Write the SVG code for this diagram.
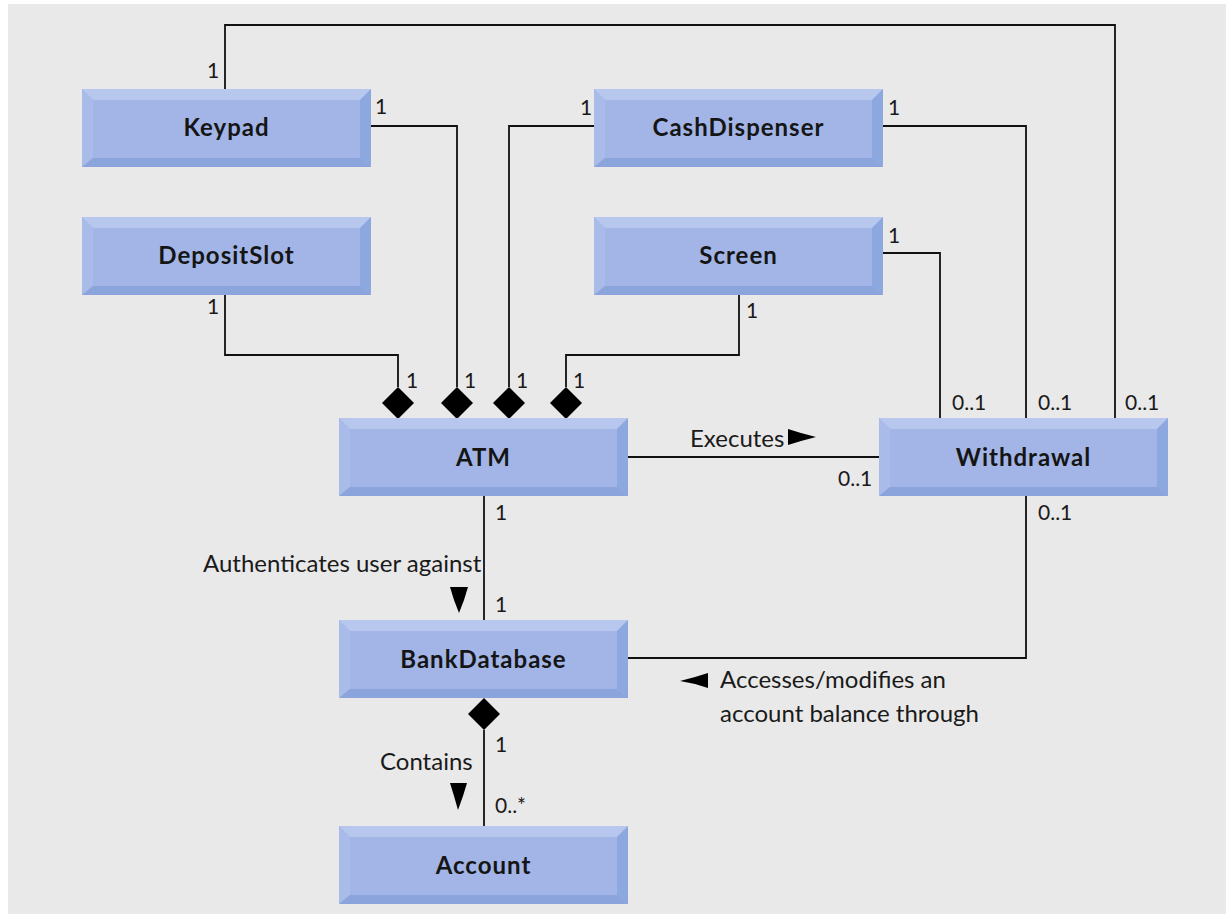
<svg xmlns="http://www.w3.org/2000/svg" xmlns:xlink="http://www.w3.org/1999/xlink" width="1226" height="914" viewBox="0 0 1226 914">
<style>
.bg{fill:#e9e9e9}
.face{fill:#a2b5e6}
.top{fill:#b7c7ee}
.left{fill:#a9bbe9}
.right{fill:#8da7df}
.bottom{fill:#8ba4dc}
.name{font-family:Lato,"Liberation Sans",sans-serif;font-weight:bold;font-size:24px;letter-spacing:1px;fill:#151515;text-anchor:middle}
.lbl{font-family:Lato,"Liberation Sans",sans-serif;font-size:24px;fill:#1a1a1a}
.mult{font-family:Lato,"Liberation Sans",sans-serif;font-size:21px;fill:#1a1a1a}
.conn{fill:none;stroke:#111;stroke-width:1.8}
.dia{fill:#000}
</style>
<defs>
<g id="box">
<rect x="0" y="0" width="289" height="78" class="face"/>
<polygon points="0,0 289,0 278,11 11,11" class="top"/>
<polygon points="0,0 11,11 11,69 0,78" class="left"/>
<polygon points="289,0 289,78 278,69 278,11" class="right"/>
<polygon points="0,78 289,78 278,69 11,69" class="bottom"/>
</g>
<polygon id="diamond" points="0,-16 16,0 0,16 -16,0" class="dia"/>
</defs>
<rect x="0" y="0" width="1226" height="914" fill="#ffffff"/>
<rect x="8" y="4" width="1218" height="910" class="bg"/>

<g id="connectors">
<polyline class="conn" points="225,89 225,25 1115,25 1115,418"/>
<polyline class="conn" points="371,126 457,126 457,387"/>
<polyline class="conn" points="594,126 509,126 509,387"/>
<polyline class="conn" points="225,295 225,355 398,355 398,387"/>
<polyline class="conn" points="739,295 739,355 566,355 566,387"/>
<polyline class="conn" points="883,126 1026,126 1026,418"/>
<polyline class="conn" points="883,253 940,253 940,418"/>
<line class="conn" x1="628" y1="457" x2="879" y2="457"/>
<line class="conn" x1="484" y1="496" x2="484" y2="620"/>
<polyline class="conn" points="1026,496 1026,658 628,658"/>
<line class="conn" x1="484" y1="730" x2="484" y2="826"/>
<use xlink:href="#diamond" x="398" y="403"/>
<use xlink:href="#diamond" x="457" y="403"/>
<use xlink:href="#diamond" x="509" y="403"/>
<use xlink:href="#diamond" x="566" y="403"/>
<use xlink:href="#diamond" x="484" y="714"/>
<polygon points="788,429 801,433 816,437 801,441 788,445" fill="#000"/>
<polygon points="450,587 468,587 464,600 459,613 454,600" fill="#000"/>
<polygon points="450,783 467,783 463,796 458,810 454,796" fill="#000"/>
<polygon points="708,673 708,688 695,684 680,681 695,677" fill="#000"/>
<text class="mult" x="207" y="78">1</text>
<text class="mult" x="375" y="114">1</text>
<text class="mult" x="580" y="115">1</text>
<text class="mult" x="888" y="115">1</text>
<text class="mult" x="888" y="243">1</text>
<text class="mult" x="207" y="314">1</text>
<text class="mult" x="746" y="318">1</text>
<text class="mult" x="406" y="388">1</text>
<text class="mult" x="464" y="388">1</text>
<text class="mult" x="516" y="388">1</text>
<text class="mult" x="573" y="388">1</text>
<text class="mult" x="952" y="410">0..1</text>
<text class="mult" x="1038" y="410">0..1</text>
<text class="mult" x="1125" y="410">0..1</text>
<text class="mult" x="838" y="486">0..1</text>
<text class="mult" x="1038" y="520">0..1</text>
<text class="mult" x="495" y="520">1</text>
<text class="mult" x="495" y="612">1</text>
<text class="mult" x="495" y="752">1</text>
<text class="mult" x="495" y="813">0..*</text>
<text class="lbl" x="690" y="447">Executes</text>
<text class="lbl" x="203" y="572">Authenticates user against</text>
<text class="lbl" x="720" y="688">Accesses/modifies an</text>
<text class="lbl" x="720" y="722">account balance through</text>
<text class="lbl" x="380" y="770">Contains</text>
</g>

<g id="node-keypad"><use xlink:href="#box" x="82" y="89"/><text class="name" x="226.5" y="136">Keypad</text></g>
<g id="node-cashdispenser"><use xlink:href="#box" x="594" y="89"/><text class="name" x="738.5" y="136">CashDispenser</text></g>
<g id="node-depositslot"><use xlink:href="#box" x="82" y="217"/><text class="name" x="226.5" y="264">DepositSlot</text></g>
<g id="node-screen"><use xlink:href="#box" x="594" y="217"/><text class="name" x="738.5" y="264">Screen</text></g>
<g id="node-atm"><use xlink:href="#box" x="339" y="418"/><text class="name" x="483.5" y="466">ATM</text></g>
<g id="node-withdrawal"><use xlink:href="#box" x="879" y="418"/><text class="name" x="1023.5" y="466">Withdrawal</text></g>
<g id="node-bankdatabase"><use xlink:href="#box" x="339" y="620"/><text class="name" x="483.5" y="668">BankDatabase</text></g>
<g id="node-account"><use xlink:href="#box" x="339" y="826"/><text class="name" x="483.5" y="874">Account</text></g>
</svg>
